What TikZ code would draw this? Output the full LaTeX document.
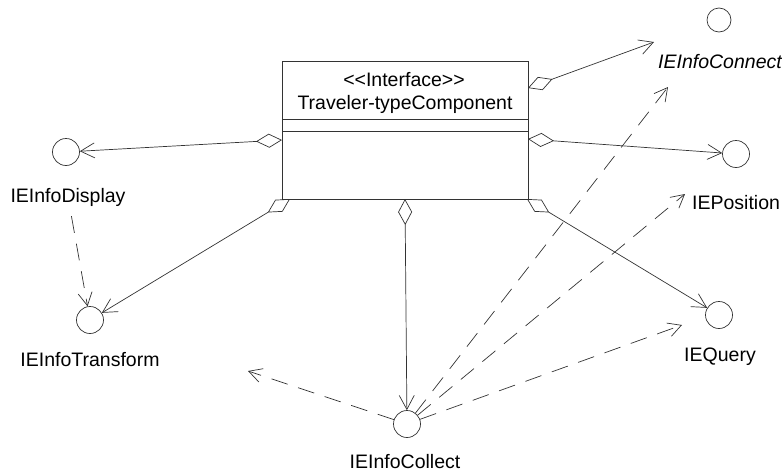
\documentclass[tikz,border=0pt]{standalone}
\usepackage{fontspec}
\setmainfont{Liberation Sans}
\usetikzlibrary{arrows.meta}
\begin{document}
\begin{tikzpicture}[x=1pt,y=-1pt,
  ink/.style={draw=black!80, line width=0.7pt},
  iface/.style={ink, circle, minimum size=27pt, inner sep=0pt},
  lbl/.style={font=\fontsize{19.5}{23}\selectfont, inner sep=0pt},
  agg/.style={ink, {Diamond[open,length=26pt,width=14pt]}-{Straight Barb[length=14pt,width=15pt]}},
  dep/.style={ink, dash pattern=on 17pt off 11pt, -{Straight Barb[length=13pt,width=14pt]}}]
\useasboundingbox (0,0) rectangle (782,474);

% class box with its two empty compartments
\node[ink, rectangle, minimum width=246pt, minimum height=138pt, inner sep=0pt] (cls) at (405,130) {};
\draw[ink] (282,119) -- (528,119);
\draw[ink] (282,131) -- (528,131);
\node[lbl, anchor=base] (stereo) at (404,86) {<\kern0pt<Interface>\kern0pt>};
\node[lbl, anchor=base] (cname) at (405,109) {Traveler-typeComponent};

% provided interfaces
\node[iface, minimum size=24pt] (connect) at (719,20) {};
\node[iface] (position) at (736,154) {};
\node[iface] (query) at (719,315) {};
\node[iface] (display) at (66,152) {};
\node[iface] (transform) at (90,320) {};
\node[iface] (collect) at (407,424) {};

\node[lbl, anchor=base west, font=\fontsize{19.5}{23}\selectfont\itshape] (connectLbl) at (658,68) {IEInfoConnect};
\node[lbl, anchor=base west] (positionLbl) at (692,209) {IEPosition};
\node[lbl, anchor=base] (queryLbl) at (720,361) {IEQuery};
\node[lbl, anchor=base] (displayLbl) at (68,202) {IEInfoDisplay};
\node[lbl, anchor=base] (transformLbl) at (90,366) {IEInfoTransform};
\node[lbl, anchor=base] (collectLbl) at (405,468) {IEInfoCollect};

% attachment points on the class border
\coordinate (pL) at (282,140);
\coordinate (pTR) at (528,88);
\coordinate (pR) at (528,139);
\coordinate (pBL) at (290,199);
\coordinate (pBM) at (405,199);
\coordinate (pBR) at (527,199);

% free ends
\coordinate (tConnect) at (654,42);
\coordinate (dConnect) at (668,87);
\coordinate (dPosition) at (685,194);
\coordinate (dQuery) at (682,325);
\coordinate (dLeft) at (248,371);

% aggregations
\draw[agg] (pL) -- (display);
\draw[agg] (pTR) -- (tConnect);
\draw[agg] (pR) -- (position);
\draw[agg] (pBL) -- (transform);
\draw[agg] (pBM) -- (collect);
\draw[agg] (pBR) -- (query);

% dependencies
\draw[dep, shorten <=10pt] (displayLbl) -- (transform);
\draw[dep] (collect) -- (dConnect);
\draw[dep] (collect) -- (dPosition);
\draw[dep] (collect) -- (dQuery);
\draw[dep] (collect) -- (dLeft);
\end{tikzpicture}
\end{document}
